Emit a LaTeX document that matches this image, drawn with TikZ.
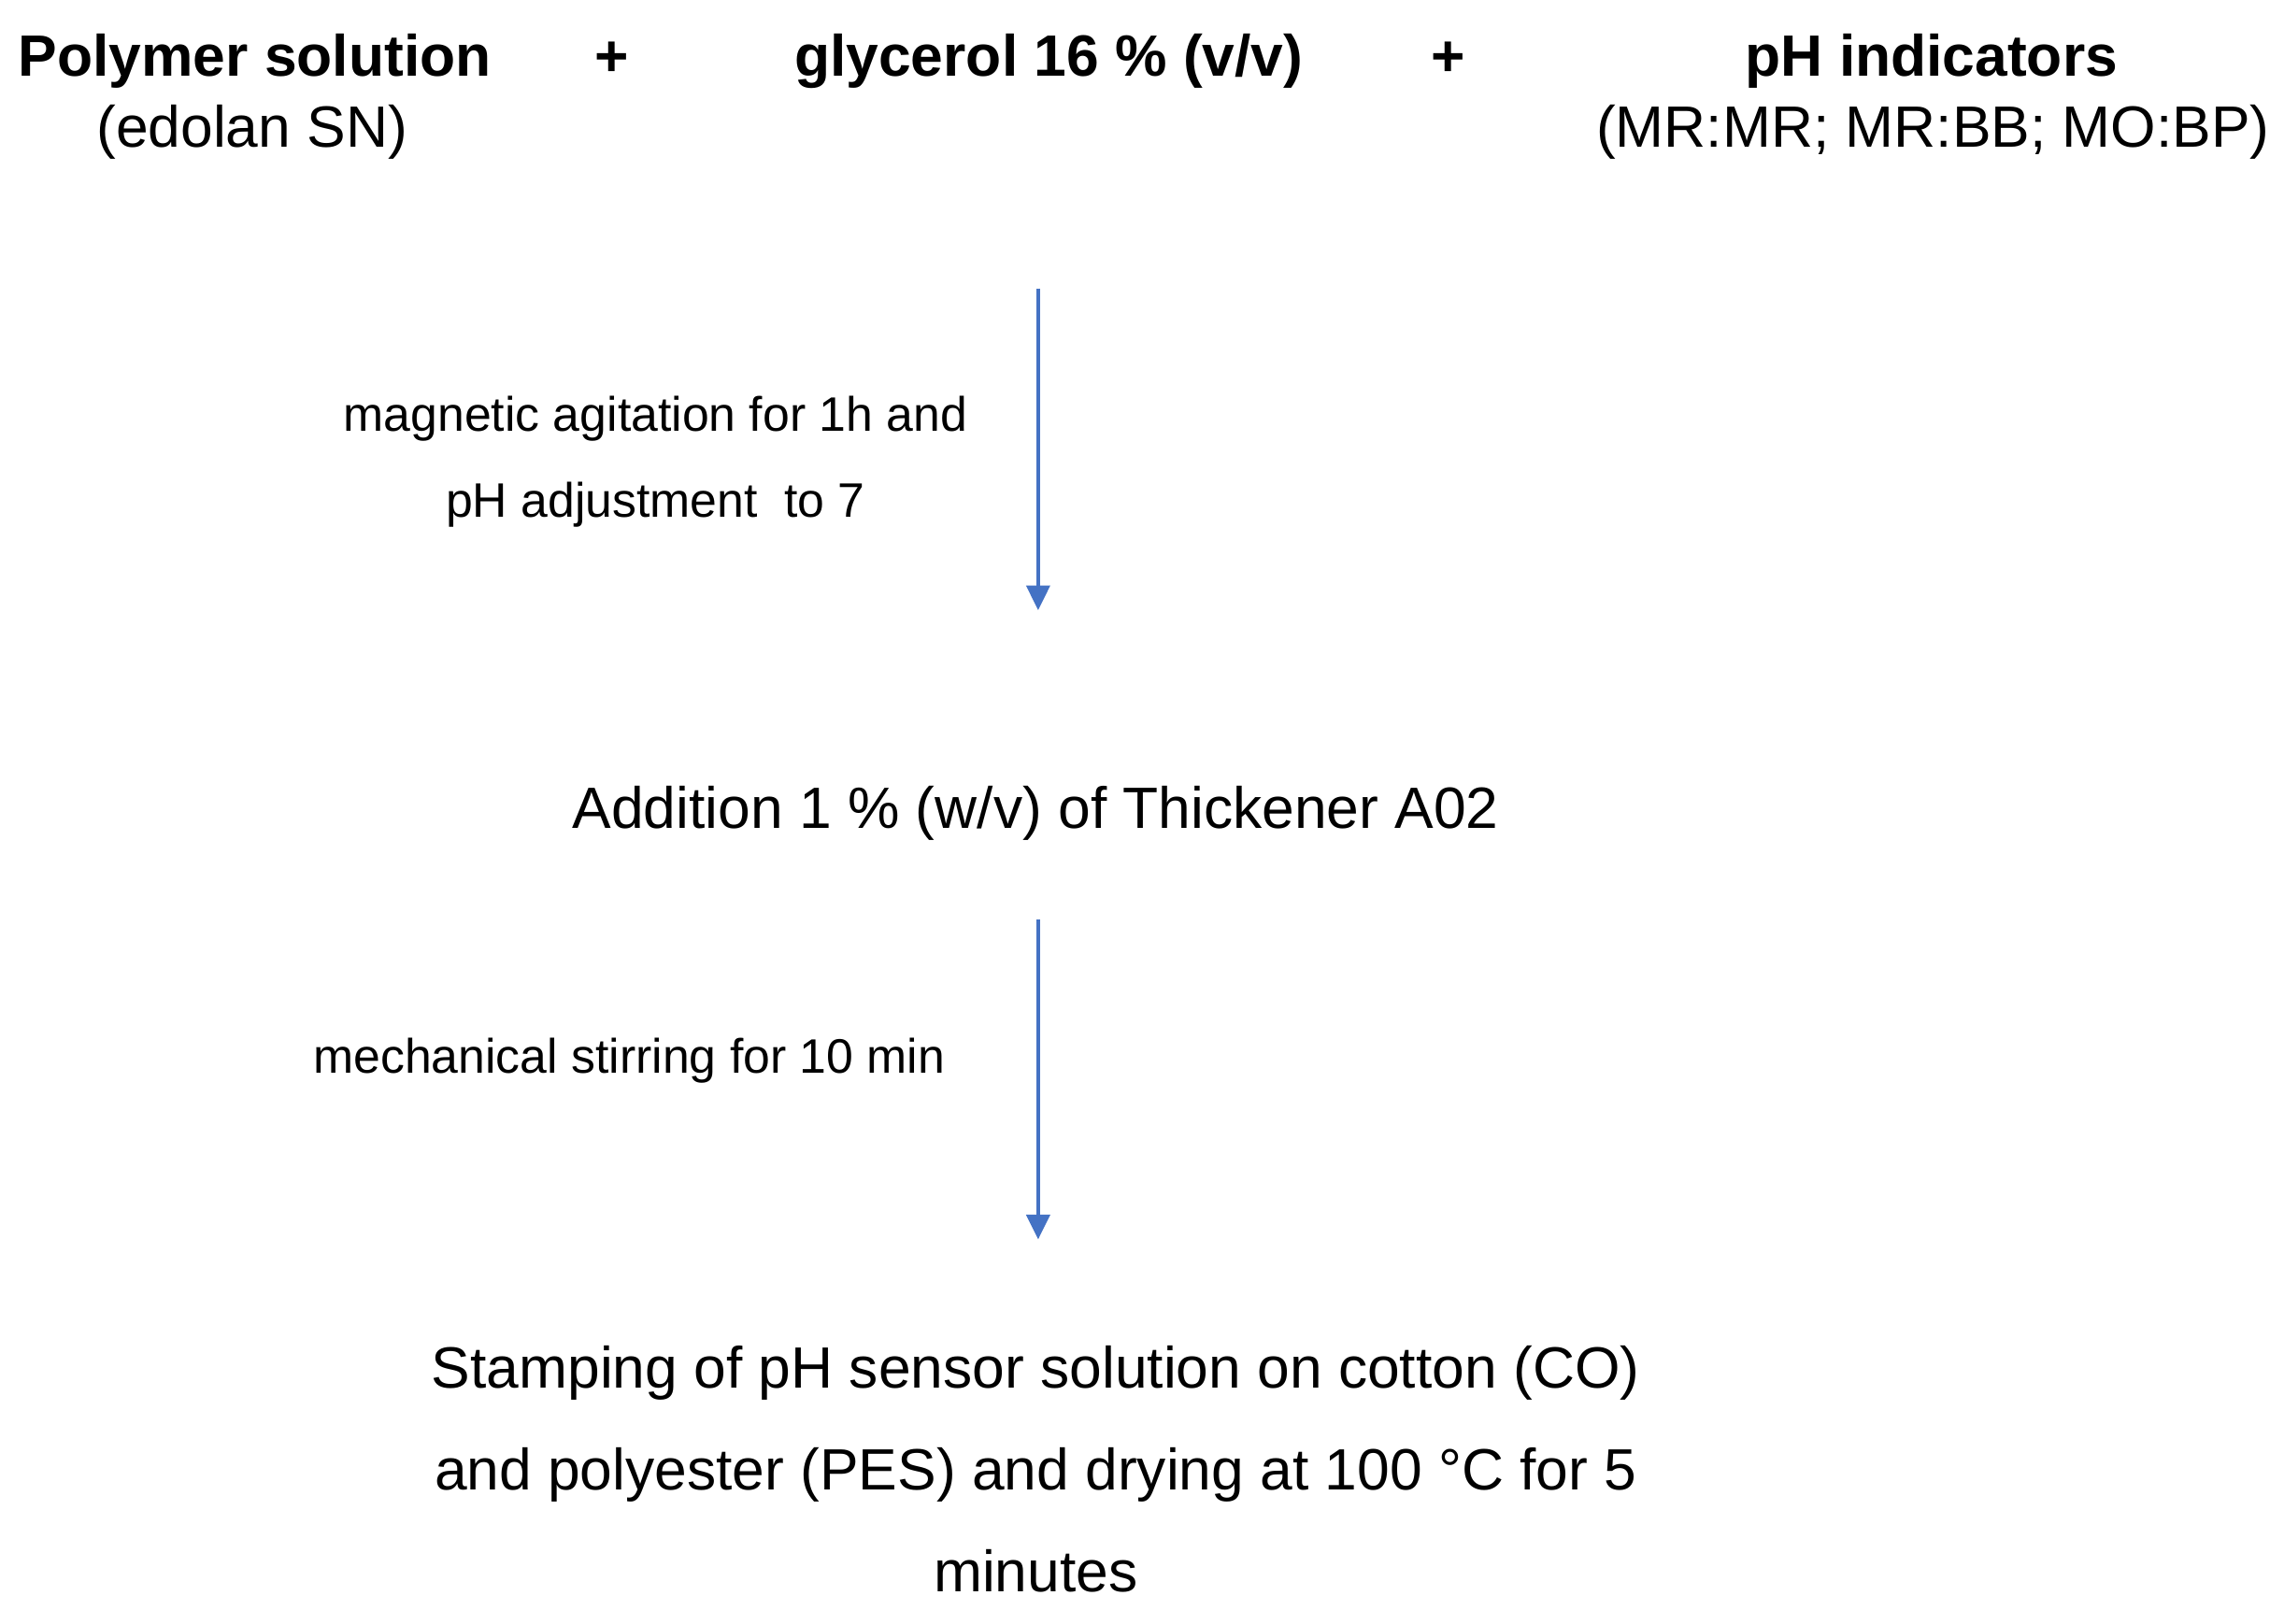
\documentclass[tikz,border=0pt]{standalone}
\usepackage{fontspec}
\setmainfont{Liberation Sans}
\usetikzlibrary{arrows.meta}
\definecolor{arrowblue}{HTML}{4472C4}
\tikzset{
  big/.style={font=\fontsize{20}{35}\selectfont, inner sep=0pt, align=center},
  bigbold/.style={font=\fontsize{20}{24}\selectfont\bfseries, inner sep=0pt},
  small/.style={font=\fontsize{16.6}{29.5}\selectfont, inner sep=0pt, align=center},
  flow/.style={draw=arrowblue, line width=1.3pt, -{Triangle[length=8.5pt,width=8pt]}, arrowblue},
}
\begin{document}
\begin{tikzpicture}[x=0.5pt,y=-0.5pt]
\useasboundingbox (0,0) rectangle (1568,1115);
% top row
\node[bigbold, anchor=base] (poly) at (175,52) {Polymer solution};
\node[big, anchor=base] (edolan) at (173,101) {(edolan SN)};
\node[bigbold, anchor=base] (plus1) at (420,52) {+};
\node[bigbold, anchor=base] (glyc) at (720,52) {glycerol 16 \% (v/v)};
\node[bigbold, anchor=base] (plus2) at (994,52) {+};
\node[bigbold, anchor=base] (ind) at (1326,52) {pH indicators};
\node[big, anchor=base] (indlist) at (1327,101) {(MR:MR; MR:BB; MO:BP)};
% arrow 1
\coordinate (a1s) at (712.7,198);
\coordinate (a1e) at (712.7,419);
\draw[flow] (a1s) -- (a1e);
\node[small, anchor=base] (mag) at (450,355) {magnetic agitation for 1h and\\pH adjustment~ to 7};
% step 2
\node[big, anchor=base] (add) at (711,569) {Addition 1 \% (w/v) of Thickener A02};
% arrow 2
\coordinate (a2s) at (712.7,631);
\coordinate (a2e) at (712.7,851);
\draw[flow] (a2s) -- (a2e);
\node[small, anchor=base] (mech) at (432,737) {mechanical stirring for 10 min};
% step 3
\node[big, anchor=base] (stamp) at (711,1093) {Stamping of pH sensor solution on cotton (CO)\\and polyester (PES) and drying at 100 °C for 5\\minutes};
\end{tikzpicture}
\end{document}
